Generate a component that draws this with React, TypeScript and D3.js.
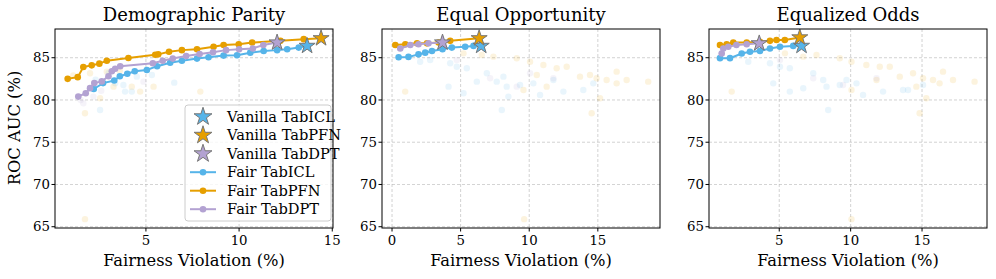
import React from "react";
import * as d3 from "d3";

// model colours
const models = ["TabICL", "TabPFN", "TabDPT"];
const colors = ["#56B4E9", "#E69F00", "#B3A2D2"];

const yTicks = [65, 70, 75, 80, 85];

// Demographic Parity: fair frontiers [x, y]
const dpICL = [[2.2, 81.3], [2.7, 82.0], [3.3, 82.3], [3.6, 82.8], [4.0, 83.1], [4.4, 83.4], [5.05, 83.55], [5.6, 84.0], [6.3, 84.4], [6.93, 84.65], [7.74, 84.9], [8.36, 85.05], [9.17, 85.25], [9.89, 85.3], [10.6, 85.6], [11.32, 85.8], [12.04, 85.9], [12.58, 86.0], [13.2, 86.2]];
const dpPFN = [[0.8, 82.5], [1.34, 82.7], [1.64, 83.9], [2.09, 84.1], [2.5, 84.3], [2.9, 84.65], [4.06, 84.97], [5.5, 85.36], [5.66, 85.4], [6.24, 85.7], [6.93, 85.9], [7.74, 86.0], [8.63, 86.3], [9.17, 86.5], [9.98, 86.6], [10.7, 86.8], [12.22, 87.0], [13.47, 87.2]];
const dpDPT = [[1.37, 80.4], [1.77, 80.8], [2.0, 81.4], [2.23, 82.0], [2.63, 82.2], [2.99, 82.8], [3.17, 83.4], [3.35, 83.7], [3.62, 84.0], [5.37, 84.35], [5.9, 84.65], [6.44, 84.9], [7.16, 85.2], [7.88, 85.45], [8.6, 85.65], [9.3, 85.9], [10.0, 86.0], [10.74, 86.1], [11.3, 86.5]];
const dpVanilla = [[13.65, 86.4], [14.4, 87.3], [12.04, 86.8]];
const dpFaintICL = [[3.35, 81.97], [3.88, 80.99], [4.24, 80.99], [4.51, 82.76], [5.32, 82.96], [6.52, 82.05], [2.54, 78.82], [3.79, 81.78], [2.3, 82.4], [3.0, 83.2]];
const dpFaintPFN = [[1.73, 78.43], [2.54, 80.2], [4.24, 81.58], [4.69, 80.99], [5.41, 81.58], [7.92, 80.99], [3.26, 81.58], [2.0, 83.16], [2.9, 83.35], [1.73, 65.9], [1.1, 82.9], [3.6, 83.5]];
const dpFaintDPT = [[1.64, 79.61], [4.87, 82.17], [2.18, 80.4], [1.5, 80.0], [2.6, 81.1]];

// Equal Opportunity
const eoICL = [[0.48, 85.05], [1.2, 85.1], [1.93, 85.4], [2.42, 85.6], [2.91, 85.8], [3.68, 86.0], [4.36, 86.2], [5.33, 86.3], [5.94, 86.4]];
const eoPFN = [[0.24, 86.5], [0.97, 86.6], [1.82, 86.7], [2.55, 86.7], [3.39, 86.8], [4.24, 87.0]];
const eoDPT = [[0.6, 86.1], [1.33, 86.5], [1.93, 86.6], [2.66, 86.7]];
const eoVanilla = [[6.5, 86.4], [6.35, 87.3], [3.68, 86.8]];
const eoFaintICL = [[2.05, 84.53], [2.78, 84.73], [4.24, 84.34], [4.72, 83.94], [5.45, 83.75], [4.12, 81.58], [5.21, 80.79], [6.18, 82.17], [6.91, 83.16], [7.63, 82.17], [8.12, 82.76], [8.36, 81.58], [8.48, 80.4], [8.0, 78.82], [9.33, 81.78], [10.3, 81.97], [10.79, 80.6], [11.76, 82.37], [12.49, 80.99], [13.94, 81.19], [14.67, 81.97]];
const eoFaintPFN = [[0.96, 80.99], [5.21, 85.52], [6.54, 85.32], [7.39, 85.13], [9.09, 84.93], [10.06, 84.53], [11.03, 84.14], [12.0, 83.75], [12.73, 83.94], [13.7, 82.76], [14.43, 82.96], [14.91, 82.57], [15.64, 82.37], [16.37, 83.35], [17.1, 82.37], [18.67, 82.17], [14.55, 78.43], [15.16, 80.2], [9.58, 81.19], [11.27, 81.58], [16.37, 81.97], [10.55, 82.96], [9.63, 65.9]];
const eoFaintDPT = [[4.72, 84.73], [7.15, 82.57], [9.09, 81.58], [10.06, 83.16], [11.76, 82.57]];

// Equalized Odds
const eqICL = [[0.85, 84.95], [1.55, 84.95], [2.37, 85.5], [2.95, 85.7], [3.65, 85.8], [4.35, 86.1], [5.05, 86.3], [5.98, 86.4]];
const eqPFN = [[0.85, 86.5], [1.32, 86.6], [1.78, 86.8], [2.72, 86.8], [3.65, 86.9], [4.35, 87.0], [4.81, 87.1], [5.39, 87.1]];
const eqDPT = [[0.97, 85.5], [1.08, 86.1], [1.43, 86.3], [2.0, 86.5], [2.72, 86.6]];
const eqVanilla = [[6.56, 86.4], [6.44, 87.4], [3.6, 86.7]];
const eqFaintICL = [[2.83, 84.53], [4.35, 84.34], [5.05, 83.94], [5.74, 83.75], [4.58, 81.97], [5.74, 80.99], [6.68, 81.38], [7.38, 83.16], [8.08, 82.37], [8.31, 81.58], [8.43, 78.82], [9.24, 81.78], [9.71, 82.37], [10.41, 81.97], [10.87, 80.6], [12.27, 80.99], [13.67, 81.19], [14.02, 81.19], [15.07, 81.78]];
const eqFaintPFN = [[1.67, 80.99], [5.4, 85.52], [6.68, 85.13], [7.61, 85.32], [9.24, 84.93], [10.06, 84.53], [11.1, 84.14], [12.04, 83.94], [12.74, 83.94], [13.44, 82.76], [14.37, 83.16], [15.07, 82.57], [15.77, 82.37], [16.47, 83.35], [17.17, 82.37], [18.68, 82.17], [14.83, 78.43], [15.3, 80.2], [14.6, 81.58], [16.23, 81.97], [11.81, 82.37], [10.06, 81.19], [10.06, 65.9]];
const eqFaintDPT = [[5.05, 84.73], [7.38, 82.57], [9.47, 81.78], [11.81, 82.57]];

const panels = [
  { title: "Demographic Parity", left: 55, right: 333, xDomain: [0.12, 15.04], xTicks: [5, 10, 15], fair: [dpICL, dpPFN, dpDPT], vanilla: dpVanilla, faint: [dpFaintICL, dpFaintPFN, dpFaintDPT], legend: true },
  { title: "Equal Opportunity", left: 382, right: 660, xDomain: [-0.73, 19.53], xTicks: [0, 5, 10, 15], fair: [eoICL, eoPFN, eoDPT], vanilla: eoVanilla, faint: [eoFaintICL, eoFaintPFN, eoFaintDPT], legend: false },
  { title: "Equalized Odds", left: 709, right: 987, xDomain: [0.08, 19.55], xTicks: [5, 10, 15], fair: [eqICL, eqPFN, eqDPT], vanilla: eqVanilla, faint: [eqFaintICL, eqFaintPFN, eqFaintDPT], legend: false },
];

const TOP = 29;
const BOTTOM = 228;
const FONT = "'DejaVu Serif', serif";

const star = d3.symbol().type(d3.symbolStar).size(80);
const legendStar = d3.symbol().type(d3.symbolStar).size(100);

const Panel = ({ p }: { p: any }) => {
  const x = d3.scaleLinear().domain(p.xDomain).range([p.left, p.right]);
  const y = d3.scaleLinear().domain([64.85, 88.4]).range([BOTTOM, TOP]);
  const line = d3.line<number[]>().x((d) => x(d[0])).y((d) => y(d[1]));
  const clipId = `clip-${p.left}`;
  return (
    <g>
      <defs>
        <clipPath id={clipId}>
          <rect x={p.left} y={TOP} width={p.right - p.left} height={BOTTOM - TOP} />
        </clipPath>
      </defs>
      {/* grid */}
      {p.xTicks.map((t: number) => (
        <line key={"gx" + t} x1={x(t)} x2={x(t)} y1={TOP} y2={BOTTOM} stroke="#b0b0b0" strokeWidth={0.8} strokeDasharray="3,2" opacity={0.7} />
      ))}
      {yTicks.map((t) => (
        <line key={"gy" + t} x1={p.left} x2={p.right} y1={y(t)} y2={y(t)} stroke="#b0b0b0" strokeWidth={0.8} strokeDasharray="3,2" opacity={0.7} />
      ))}
      <g clipPath={`url(#${clipId})`}>
        {/* faint scatter of all configurations */}
        {p.faint.map((pts: number[][], i: number) =>
          pts.map((d, j) => (
            <circle key={`f${i}-${j}`} cx={x(d[0])} cy={y(d[1])} r={3.2} fill={colors[i]} opacity={0.13} />
          ))
        )}
        {/* fair frontiers, line ends at the vanilla star */}
        {p.fair.map((pts: number[][], i: number) => (
          <g key={"fair" + i}>
            <path d={line([...pts, p.vanilla[i]]) || ""} fill="none" stroke={colors[i]} strokeWidth={2} />
            {pts.map((d, j) => (
              <circle key={j} cx={x(d[0])} cy={y(d[1])} r={3.3} fill={colors[i]} />
            ))}
          </g>
        ))}
        {[2, 0, 1].map((i) => (
          <path key={"v" + i} d={star() || ""} transform={`translate(${x(p.vanilla[i][0])},${y(p.vanilla[i][1])})`} fill={colors[i]} stroke="#777" strokeWidth={1} />
        ))}
      </g>
      {/* frame */}
      <rect x={p.left} y={TOP} width={p.right - p.left} height={BOTTOM - TOP} fill="none" stroke="#000" strokeWidth={1} />
      {/* x ticks */}
      {p.xTicks.map((t: number) => (
        <g key={"xt" + t}>
          <line x1={x(t)} x2={x(t)} y1={BOTTOM} y2={BOTTOM + 3.5} stroke="#000" />
          <text x={x(t)} y={BOTTOM + 17} textAnchor="middle" fontSize={13.3} fontFamily={FONT}>{t}</text>
        </g>
      ))}
      {yTicks.map((t) => (
        <g key={"yt" + t}>
          <line x1={p.left - 3.5} x2={p.left} y1={y(t)} y2={y(t)} stroke="#000" />
          <text x={p.left - 5} y={y(t) + 4.6} textAnchor="end" fontSize={13.3} fontFamily={FONT}>{t}</text>
        </g>
      ))}
      <text x={(p.left + p.right) / 2} y={21} textAnchor="middle" fontSize={18} fontFamily={FONT}>{p.title}</text>
      <text x={(p.left + p.right) / 2} y={266} textAnchor="middle" fontSize={16.3} fontFamily={FONT}>Fairness Violation (%)</text>
      {p.legend && <Legend left={185} top={105} right={331} />}
    </g>
  );
};

const Legend = ({ left, top, right }: { left: number; top: number; right: number }) => {
  const rows = [
    ...models.map((m, i) => ({ label: `Vanilla ${m}`, color: colors[i], kind: "star" })),
    ...models.map((m, i) => ({ label: `Fair ${m}`, color: colors[i], kind: "line" })),
  ];
  return (
    <g>
      <rect x={left} y={top} width={right - left} height={116} rx={3} fill="#fff" fillOpacity={0.8} stroke="#ccc" />
      {rows.map((r, i) => {
        const cy = top + 11.7 + i * 18.5;
        return (
          <g key={r.label}>
            {r.kind === "star" ? (
              <path d={legendStar() || ""} transform={`translate(${left + 18},${cy})`} fill={r.color} stroke="#777" strokeWidth={1} />
            ) : (
              <g>
                <line x1={left + 5} x2={left + 31} y1={cy} y2={cy} stroke={r.color} strokeWidth={2} />
                <circle cx={left + 18} cy={cy} r={3.3} fill={r.color} />
              </g>
            )}
            <text x={left + 42} y={cy + 5} fontSize={14.6} fontFamily={FONT}>{r.label}</text>
          </g>
        );
      })}
    </g>
  );
};

export default function App() {
  return (
    <svg width={996} height={279} style={{ position: "absolute", left: 0, top: 0, background: "#fff" }}>
      {panels.map((p) => (
        <Panel key={p.title} p={p} />
      ))}
      <text transform="translate(20,128) rotate(-90)" textAnchor="middle" fontSize={16.3} fontFamily={FONT}>ROC AUC (%)</text>
    </svg>
  );
}
